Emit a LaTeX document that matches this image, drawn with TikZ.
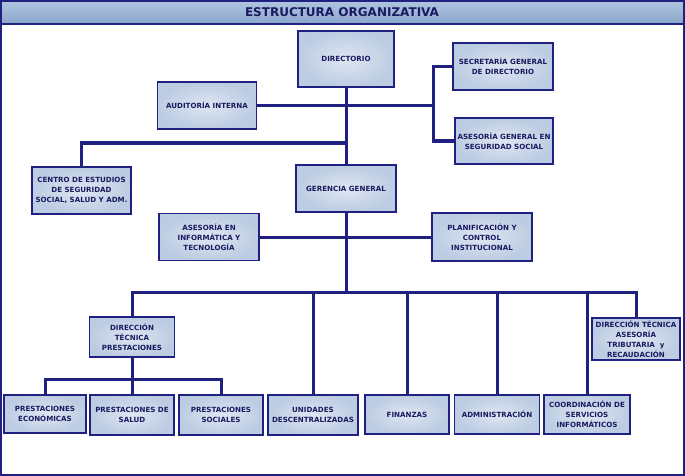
\documentclass[tikz,border=0pt]{standalone}
\usepackage{fontspec}
\setmainfont{DejaVu Sans}
\definecolor{navy}{RGB}{32,32,128}
\definecolor{ink}{RGB}{26,26,96}
\definecolor{boxin}{RGB}{222,230,242}
\definecolor{boxout}{RGB}{188,204,226}
\definecolor{bartop}{RGB}{176,196,224}
\definecolor{barbot}{RGB}{138,166,204}
\begin{document}
\begin{tikzpicture}[x=1pt,y=-1pt,
		box/.style={draw=navy,line width=1.7pt,inner color=boxin,outer color=boxout,text=ink,font=\fontsize{7.1}{10}\selectfont\bfseries,align=center,inner sep=0pt},
		link/.style={navy,line width=3pt}]
			\useasboundingbox (0,0) rectangle (685,476);
			% frame and title bar
			\fill[top color=bartop,bottom color=barbot] (1,1) rectangle (684,24);
			\draw[navy,line width=1.6pt] (1,1) rectangle (684,475);
			\draw[navy,line width=1.6pt] (1,24) -- (684,24);
			\node[text=ink,font=\fontsize{12}{14}\selectfont\bfseries] (title) at (342,12.5) {ESTRUCTURA ORGANIZATIVA};
			% top level
			\node[box,minimum width=96pt,minimum height=56pt] (dir) at (346,59) {DIRECTORIO};
			\node[box,minimum width=99pt,minimum height=47pt] (aud) at (207,105.5) {AUDITORÍA INTERNA};
			\node[box,minimum width=100pt,minimum height=47pt] (sec) at (503,66.5) {SECRETARÍA GENERAL\\DE DIRECTORIO};
			\node[box,minimum width=98pt,minimum height=46pt] (ase) at (504,141) {ASESORÍA GENERAL EN\\SEGURIDAD SOCIAL};
			\node[box,minimum width=99pt,minimum height=47pt] (cen) at (81.5,190.5) {CENTRO DE ESTUDIOS\\DE SEGURIDAD\\SOCIAL, SALUD Y ADM.};
			\node[box,minimum width=100pt,minimum height=47pt] (ger) at (346,188.5) {GERENCIA GENERAL};
			\node[box,minimum width=100pt,minimum height=47pt] (inf) at (209,237) {ASESORÍA EN\\INFORMÁTICA Y\\TECNOLOGÍA};
			\node[box,minimum width=100pt,minimum height=48pt] (pla) at (482,237) {PLANIFICACIÓN Y\\CONTROL\\INSTITUCIONAL};
			% second level
			\node[box,minimum width=85pt,minimum height=40pt] (dtp) at (132,337) {DIRECCIÓN\\TÉCNICA\\PRESTACIONES};
			\node[box,minimum width=88pt,minimum height=42pt] (dta) at (636,339) {DIRECCIÓN TÉCNICA\\ASESORÍA\\TRIBUTARIA~ y\\RECAUDACIÓN};
			\node[box,minimum width=82pt,minimum height=38pt] (pe) at (45,414) {PRESTACIONES\\ECONÓMICAS};
			\node[box,minimum width=84pt,minimum height=40pt] (ps) at (132,415) {PRESTACIONES DE\\SALUD};
			\node[box,minimum width=84pt,minimum height=40pt] (pso) at (221,415) {PRESTACIONES\\SOCIALES};
			\node[box,minimum width=90pt,minimum height=40pt] (uni) at (313,415) {UNIDADES\\DESCENTRALIZADAS};
			\node[box,minimum width=84pt,minimum height=39pt] (fin) at (407,414.5) {FINANZAS};
			\node[box,minimum width=85pt,minimum height=39pt] (adm) at (497,414.5) {ADMINISTRACIÓN};
			\node[box,minimum width=86pt,minimum height=39pt] (coo) at (587,414.5) {COORDINACIÓN DE\\SERVICIOS\\INFORMÁTICOS};
			% connectors
			\coordinate (bk) at (433,105.5);
			\coordinate (cj) at (346,143);
			\coordinate (busl) at (132,292);
			\coordinate (busr) at (636,292);
			\draw[link] (dir.south) -- (ger.north);
			\draw[link] (aud.east) -- (bk);
			\draw[link] (sec.west) -- (sec.west -| bk) -- (ase.west -| bk) -- (ase.west);
			\draw[link] (cj) -| (cen.north);
			\draw[link] (inf.east) -- (pla.west);
			\draw[link] (ger.south) -- (ger.south |- busl);
			\draw[link] (dtp.north) -- (busl) -- (busr) -- (dta.north);
			\foreach \n in {uni,fin,adm,coo}
				\draw[link] (\n.north) -- (\n.north |- busl);
			\draw[link] (dtp.south) -- (ps.north);
			\draw[link] (pe.north) -- (pe.north |- 0,379) -- (pso.north |- 0,379) -- (pso.north);
		\end{tikzpicture}
\end{document}
